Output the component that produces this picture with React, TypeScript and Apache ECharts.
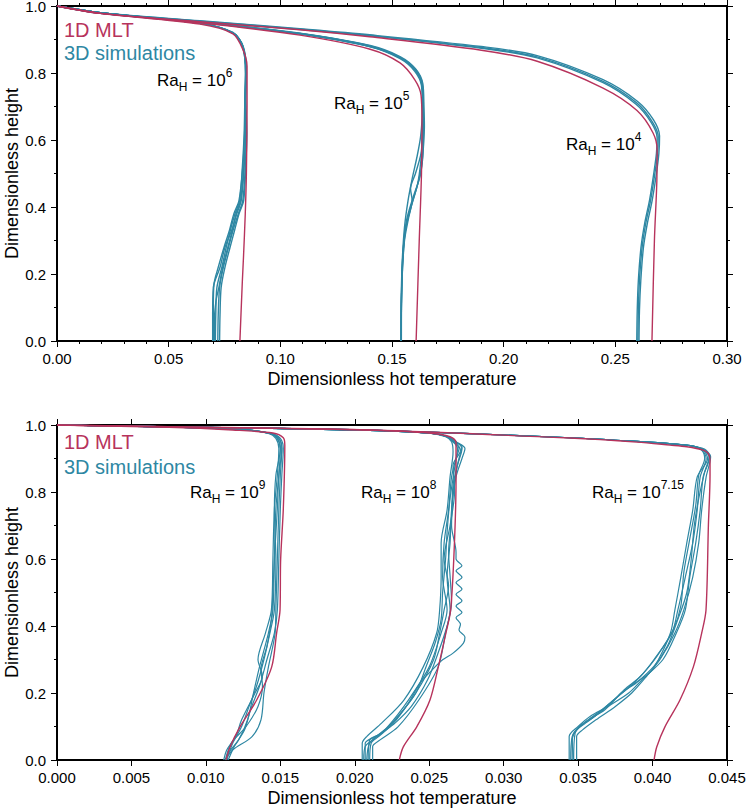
import React, { useEffect, useRef } from "react";
import * as echarts from "echarts";

const RED = "#b7335c";
const TEAL = "#2e87a3";
const FONT = "'Liberation Sans', Arial, Helvetica, sans-serif";

// ---------- Top panel: Ra_H = 10^4, 10^5, 10^6 ----------
const topXTicks = { min: 0, max: 0.3, interval: 0.05 };

const mlt4 = [[0,1],[0.0193,0.978],[0.064,0.953],[0.1088,0.929],[0.14,0.908],[0.19,0.868],[0.215,0.835],[0.2445,0.755],[0.2597,0.688],[0.2669,0.621],[0.2687,0.57],[0.2686,0.48],[0.2675,0.3],[0.2664,0]];
const sim4a = [[0,1],[0.0193,0.979],[0.064,0.955],[0.1088,0.931],[0.14,0.912],[0.19,0.876],[0.215,0.848],[0.2445,0.775],[0.2597,0.71],[0.2665,0.655],[0.2692,0.61],[0.2689,0.56],[0.2677,0.5],[0.2658,0.42],[0.2636,0.35],[0.262,0.28],[0.2608,0.18],[0.2603,0.09],[0.2601,0]];
const sim4b = [[0,1],[0.0193,0.98],[0.064,0.956],[0.1088,0.932],[0.14,0.914],[0.19,0.879],[0.215,0.852],[0.2445,0.78],[0.26,0.715],[0.2671,0.66],[0.2698,0.612],[0.2695,0.56],[0.2684,0.5],[0.2665,0.42],[0.2643,0.35],[0.2626,0.28],[0.2614,0.18],[0.2608,0.09],[0.2606,0]];
const sim4c = [[0,1],[0.0193,0.978],[0.064,0.954],[0.1088,0.93],[0.14,0.911],[0.19,0.874],[0.215,0.845],[0.2445,0.771],[0.2594,0.706],[0.2661,0.652],[0.2687,0.608],[0.2684,0.56],[0.2672,0.5],[0.2653,0.42],[0.2631,0.35],[0.2615,0.28],[0.2603,0.18],[0.2598,0.09],[0.2596,0]];

const mlt5 = [[0,1],[0.0193,0.978],[0.064,0.95],[0.1088,0.913],[0.1402,0.871],[0.1536,0.83],[0.1603,0.779],[0.163,0.734],[0.1634,0.66],[0.1632,0.5],[0.1622,0.3],[0.1608,0]];
const sim5a = [[0,1],[0.0193,0.979],[0.064,0.951],[0.1088,0.917],[0.1402,0.879],[0.1536,0.845],[0.1603,0.809],[0.1634,0.764],[0.1639,0.69],[0.1636,0.6],[0.1628,0.53],[0.1615,0.47],[0.159,0.41],[0.1562,0.34],[0.1548,0.25],[0.1542,0.12],[0.1541,0]];
const sim5b = [[0,1],[0.0193,0.979],[0.064,0.952],[0.1088,0.918],[0.1402,0.881],[0.1536,0.847],[0.1605,0.811],[0.1636,0.766],[0.1641,0.69],[0.1642,0.62],[0.1638,0.55],[0.1625,0.49],[0.1595,0.43],[0.1565,0.36],[0.155,0.27],[0.1543,0.14],[0.1542,0]];
const sim5c = [[0,1],[0.0193,0.979],[0.064,0.951],[0.1088,0.916],[0.1402,0.878],[0.1536,0.843],[0.1601,0.806],[0.1632,0.762],[0.1636,0.69],[0.1628,0.61],[0.1612,0.55],[0.1592,0.49],[0.1572,0.42],[0.1556,0.34],[0.1546,0.24],[0.1541,0.12],[0.154,0]];
const sim5d = [[0,1],[0.0193,0.98],[0.064,0.952],[0.1088,0.918],[0.1402,0.88],[0.1536,0.846],[0.1604,0.81],[0.1635,0.765],[0.164,0.7],[0.1637,0.62],[0.163,0.56],[0.1605,0.5],[0.1583,0.455],[0.159,0.42],[0.1575,0.37],[0.1556,0.3],[0.1546,0.2],[0.1542,0.1],[0.1541,0]];
const sim5e = [[0,1],[0.0193,0.979],[0.064,0.952],[0.1088,0.919],[0.1402,0.882],[0.1536,0.849],[0.1606,0.812],[0.1638,0.768],[0.1643,0.7],[0.1645,0.64],[0.164,0.58],[0.1632,0.52],[0.1612,0.46],[0.158,0.39],[0.1558,0.32],[0.1547,0.22],[0.1542,0.1],[0.1541,0]];

const mlt6 = [[0,1],[0.0193,0.978],[0.064,0.946],[0.0788,0.917],[0.0833,0.869],[0.0851,0.82],[0.0851,0.7],[0.0848,0.5],[0.0843,0.38],[0.0835,0.25],[0.083,0.18],[0.0819,0]];
const sim6a = [[0,1],[0.0193,0.98],[0.064,0.948],[0.0788,0.92],[0.0833,0.878],[0.0846,0.8],[0.0843,0.72],[0.0848,0.62],[0.0843,0.52],[0.0832,0.42],[0.0812,0.38],[0.0788,0.33],[0.0768,0.28],[0.0745,0.22],[0.0728,0.16],[0.0722,0.08],[0.072,0]];
const sim6b = [[0,1],[0.0193,0.98],[0.064,0.948],[0.0788,0.919],[0.0832,0.877],[0.0844,0.8],[0.0841,0.72],[0.0838,0.62],[0.083,0.52],[0.0818,0.42],[0.0797,0.38],[0.0776,0.33],[0.0758,0.28],[0.0738,0.22],[0.0716,0.16],[0.0711,0.08],[0.0709,0]];
const sim6c = [[0,1],[0.0193,0.98],[0.064,0.948],[0.0788,0.92],[0.0833,0.878],[0.0845,0.8],[0.0842,0.72],[0.0843,0.62],[0.0838,0.52],[0.0825,0.42],[0.0805,0.38],[0.0782,0.33],[0.0752,0.28],[0.073,0.22],[0.07,0.16],[0.0697,0.08],[0.0697,0]];
const sim6d = [[0,1],[0.0193,0.98],[0.064,0.948],[0.0788,0.92],[0.0833,0.878],[0.0846,0.8],[0.0844,0.72],[0.0845,0.62],[0.0836,0.52],[0.0822,0.42],[0.0802,0.38],[0.0785,0.33],[0.0765,0.28],[0.0742,0.22],[0.0725,0.16],[0.0712,0.12],[0.0705,0.06],[0.0705,0]];
const sim6e = [[0,1],[0.0193,0.98],[0.064,0.948],[0.0788,0.921],[0.0834,0.879],[0.0848,0.8],[0.0846,0.72],[0.085,0.62],[0.0845,0.52],[0.0836,0.42],[0.0815,0.38],[0.0795,0.33],[0.0775,0.28],[0.0752,0.22],[0.0735,0.16],[0.073,0.08],[0.0728,0]];
const sim6f = [[0,1],[0.0193,0.98],[0.064,0.948],[0.0788,0.919],[0.0832,0.877],[0.0844,0.8],[0.0842,0.72],[0.084,0.62],[0.0832,0.52],[0.0815,0.42],[0.0792,0.38],[0.0772,0.33],[0.0748,0.28],[0.0722,0.22],[0.0703,0.17],[0.07,0.1],[0.0701,0]];

// ---------- Bottom panel: Ra_H = 10^9, 10^8, 10^7.15 ----------
const botXTicks = { min: 0, max: 0.045, interval: 0.005 };

const mlt9 = [[0,1],[0.0075,0.993],[0.0118,0.985],[0.0145,0.976],[0.0152,0.962],[0.0153,0.94],[0.0152,0.75],[0.01502,0.597],[0.01498,0.448],[0.01475,0.379],[0.01442,0.278],[0.01341,0.179],[0.01229,0.099],[0.01162,0.039],[0.01135,0]];
const sim9a = [[0,1],[0.0075,0.994],[0.0125,0.986],[0.0143,0.975],[0.0148,0.96],[0.015,0.93],[0.0149,0.85],[0.0147,0.75],[0.0146,0.6],[0.0145,0.448],[0.0142,0.379],[0.0136,0.278],[0.0132,0.2],[0.0128,0.12],[0.0122,0.06],[0.0115,0.02],[0.0114,0]];
const sim9b = [[0,1],[0.0075,0.994],[0.0125,0.986],[0.0143,0.975],[0.0149,0.96],[0.0151,0.93],[0.015,0.85],[0.0149,0.75],[0.0148,0.6],[0.0147,0.448],[0.01465,0.379],[0.0142,0.278],[0.0139,0.2],[0.0137,0.12],[0.0131,0.07],[0.0118,0.03],[0.0113,0]];
const sim9c = [[0,1],[0.0075,0.994],[0.0125,0.986],[0.0142,0.975],[0.0147,0.96],[0.0149,0.93],[0.0148,0.85],[0.0146,0.75],[0.0145,0.6],[0.0144,0.448],[0.014,0.379],[0.0135,0.3],[0.0138,0.25],[0.0133,0.2],[0.0124,0.12],[0.012,0.07],[0.0114,0.03],[0.0112,0]];
const sim9d = [[0,1],[0.0075,0.994],[0.0125,0.986],[0.0144,0.975],[0.015,0.96],[0.0152,0.93],[0.0151,0.85],[0.015,0.75],[0.0149,0.6],[0.0148,0.448],[0.0146,0.379],[0.0141,0.3],[0.0136,0.22],[0.013,0.15],[0.0126,0.09],[0.0119,0.04],[0.0115,0]];
const sim9e = [[0,1],[0.0075,0.994],[0.0125,0.986],[0.0143,0.975],[0.0148,0.96],[0.015,0.93],[0.0147,0.85],[0.0146,0.75],[0.0147,0.6],[0.0146,0.448],[0.0143,0.379],[0.0139,0.3],[0.0134,0.22],[0.0129,0.16],[0.0124,0.1],[0.0118,0.05],[0.0114,0]];
const sim9f = [[0,1],[0.0075,0.994],[0.0125,0.986],[0.0143,0.975],[0.0149,0.96],[0.0151,0.93],[0.0149,0.85],[0.0148,0.75],[0.0146,0.6],[0.0145,0.5],[0.0144,0.42],[0.0141,0.34],[0.0137,0.27],[0.0138,0.22],[0.0135,0.16],[0.0127,0.1],[0.0117,0.05],[0.0113,0]];

const mlt8 = [[0,1],[0.0075,0.995],[0.015,0.99],[0.021,0.985],[0.025,0.976],[0.0264,0.965],[0.0268,0.949],[0.0268,0.832],[0.02668,0.633],[0.02644,0.448],[0.02612,0.379],[0.02561,0.278],[0.02505,0.179],[0.02416,0.099],[0.02326,0.039],[0.02299,0]];
const sim8a = [[0,1],[0.01,0.993],[0.021,0.984],[0.0252,0.975],[0.0262,0.965],[0.0266,0.95],[0.027,0.93],[0.0268,0.9],[0.0265,0.845],[0.0263,0.746],[0.026,0.648],[0.0259,0.546],[0.0262,0.448],[0.0258,0.379],[0.025,0.278],[0.0236,0.179],[0.0222,0.099],[0.0212,0.06],[0.0207,0.04],[0.0206,0]];
const sim8b = [[0,1],[0.01,0.993],[0.021,0.984],[0.0252,0.975],[0.0263,0.965],[0.0268,0.95],[0.0274,0.93],[0.0272,0.9],[0.0268,0.845],[0.0265,0.746],[0.0264,0.648],[0.0262,0.546],[0.0264,0.448],[0.0261,0.379],[0.0256,0.278],[0.0243,0.179],[0.0229,0.099],[0.0217,0.06],[0.0212,0.04],[0.0212,0]];
const sim8c = [[0,1],[0.01,0.993],[0.021,0.984],[0.0251,0.975],[0.0261,0.965],[0.0265,0.95],[0.0266,0.92],[0.0264,0.845],[0.0262,0.746],[0.0258,0.648],[0.0258,0.546],[0.0257,0.448],[0.0255,0.379],[0.0246,0.278],[0.0233,0.179],[0.0218,0.11],[0.0208,0.07],[0.0205,0.05],[0.0205,0]];
const sim8d = [[0,1],[0.01,0.993],[0.021,0.984],[0.0252,0.975],[0.0262,0.965],[0.0267,0.95],[0.0271,0.925],[0.0266,0.88],[0.0267,0.8],[0.0264,0.7],[0.026,0.6],[0.0263,0.52],[0.026,0.448],[0.0257,0.379],[0.0253,0.3],[0.0241,0.2],[0.0229,0.13],[0.0218,0.08],[0.021,0.06],[0.0209,0]];
const sim8e = [[0,1],[0.01,0.993],[0.021,0.984],[0.0252,0.975],[0.0262,0.965],[0.0266,0.95],[0.0269,0.93],[0.0267,0.87],[0.0264,0.78],[0.0262,0.68],[0.0261,0.6],[0.0259,0.5],[0.0258,0.42],[0.0254,0.35],[0.0248,0.28],[0.0241,0.2],[0.0231,0.14],[0.0223,0.1],[0.0214,0.07],[0.0207,0.05],[0.0207,0]];
const sim8f = [[0,1],[0.01,0.993],[0.021,0.984],[0.0252,0.975],[0.0263,0.965],[0.0267,0.95],[0.0272,0.935],[0.027,0.9],[0.0266,0.82],[0.0265,0.72],[0.0263,0.62],[0.0264,0.55],[0.0265,0.47],[0.0262,0.4],[0.0256,0.32],[0.0249,0.24],[0.0238,0.16],[0.0227,0.11],[0.0218,0.08],[0.021,0.05],[0.0208,0]];
const sim8w = [[0,1],[0.01,0.993],[0.021,0.984],[0.0252,0.975],[0.0263,0.965],[0.0268,0.95],[0.0272,0.93],[0.0269,0.88],[0.0266,0.8],[0.0265,0.7],[0.0268,0.62],[0.0268,0.6],[0.0272,0.58],[0.0268,0.565],[0.0272,0.545],[0.0268,0.53],[0.0272,0.51],[0.0268,0.495],[0.0272,0.475],[0.0268,0.46],[0.0272,0.44],[0.0268,0.425],[0.0271,0.405],[0.027,0.388],[0.0274,0.367],[0.0273,0.349],[0.0266,0.319],[0.0259,0.299],[0.0252,0.269],[0.0244,0.23],[0.0236,0.17],[0.0226,0.11],[0.0216,0.07],[0.0211,0.05],[0.021,0]];

const mlt715 = [[0,1],[0.01,0.993],[0.021,0.985],[0.03445,0.961],[0.03895,0.949],[0.04117,0.94],[0.0423,0.935],[0.0434,0.925],[0.04374,0.915],[0.04386,0.896],[0.04386,0.85],[0.04375,0.7],[0.04359,0.448],[0.0433,0.379],[0.04274,0.278],[0.04184,0.179],[0.04083,0.099],[0.04028,0.039],[0.0401,0]];
const sim715a = [[0,1],[0.01,0.993],[0.021,0.985],[0.03445,0.962],[0.03895,0.951],[0.0415,0.943],[0.0427,0.937],[0.0435,0.925],[0.0439,0.905],[0.0436,0.845],[0.0433,0.746],[0.0431,0.648],[0.0427,0.546],[0.0421,0.448],[0.0415,0.379],[0.0405,0.3],[0.0396,0.25],[0.0386,0.2],[0.0375,0.16],[0.0362,0.12],[0.0353,0.09],[0.0349,0.07],[0.0349,0]];
const sim715b = [[0,1],[0.01,0.993],[0.021,0.985],[0.03445,0.962],[0.03895,0.951],[0.0415,0.943],[0.0427,0.937],[0.0433,0.925],[0.0436,0.9],[0.0432,0.845],[0.043,0.746],[0.0427,0.648],[0.0422,0.546],[0.0417,0.448],[0.0413,0.379],[0.0401,0.3],[0.0392,0.25],[0.0381,0.21],[0.0372,0.17],[0.0361,0.13],[0.0351,0.1],[0.0346,0.07],[0.0345,0]];
const sim715c = [[0,1],[0.01,0.993],[0.021,0.985],[0.03445,0.962],[0.03895,0.951],[0.0415,0.943],[0.0427,0.937],[0.0434,0.925],[0.0437,0.9],[0.043,0.845],[0.0427,0.746],[0.0423,0.648],[0.0419,0.546],[0.0415,0.448],[0.0412,0.379],[0.0404,0.3],[0.0398,0.26],[0.0385,0.22],[0.0377,0.19],[0.0366,0.15],[0.0354,0.11],[0.0348,0.08],[0.0347,0]];
const sim715d = [[0,1],[0.01,0.993],[0.021,0.985],[0.03445,0.962],[0.03895,0.951],[0.0415,0.943],[0.0427,0.937],[0.0436,0.925],[0.0438,0.9],[0.0434,0.845],[0.0432,0.746],[0.0429,0.648],[0.0425,0.546],[0.0422,0.448],[0.0416,0.379],[0.0407,0.3],[0.0393,0.24],[0.0384,0.2],[0.037,0.16],[0.0358,0.13],[0.035,0.1],[0.0344,0.07],[0.0344,0]];
const sim715e = [[0,1],[0.01,0.993],[0.021,0.985],[0.03445,0.962],[0.03895,0.951],[0.0415,0.943],[0.0427,0.937],[0.0434,0.925],[0.0438,0.905],[0.0435,0.86],[0.0431,0.78],[0.0428,0.7],[0.0426,0.6],[0.0423,0.5],[0.0417,0.42],[0.041,0.34],[0.0401,0.28],[0.0389,0.23],[0.0379,0.2],[0.0368,0.15],[0.0357,0.12],[0.0349,0.09],[0.0346,0.06],[0.0346,0]];
const sim715f = [[0,1],[0.01,0.993],[0.021,0.985],[0.03445,0.962],[0.03895,0.951],[0.0415,0.943],[0.0427,0.937],[0.0433,0.925],[0.0435,0.9],[0.0431,0.85],[0.0429,0.76],[0.0425,0.66],[0.0421,0.56],[0.0419,0.46],[0.0414,0.39],[0.0403,0.31],[0.0394,0.26],[0.0385,0.22],[0.0374,0.18],[0.0364,0.14],[0.0355,0.11],[0.0348,0.085],[0.0346,0.06],[0.0347,0]];

const yTicks = { min: 0, max: 1, interval: 0.2 };

const topSim = [sim4a, sim4b, sim4c, sim5a, sim5b, sim5c, sim5d, sim5e, sim6a, sim6b, sim6c, sim6d, sim6e, sim6f];
const topMlt = [mlt4, mlt5, mlt6];
const botSim = [sim9a, sim9b, sim9c, sim9d, sim9e, sim9f, sim8a, sim8b, sim8c, sim8d, sim8e, sim8f, sim8w, sim715a, sim715b, sim715c, sim715d, sim715e, sim715f];
const botMlt = [mlt9, mlt8, mlt715];

const legendTexts = ["1D MLT", "3D simulations"];
const xTitle = "Dimensionless hot temperature";
const yTitle = "Dimensionless height";

const topLabels = [
  { exp: "6", x: 157, y: 80 },
  { exp: "5", x: 334, y: 103 },
  { exp: "4", x: 566, y: 144 },
];
const botLabels = [
  { exp: "9", x: 190, y: 492 },
  { exp: "8", x: 361, y: 492 },
  { exp: "7.15", x: 592, y: 492 },
];

function xAxes(grid: number, t: any, digits: number, minor: boolean) {
  const base = {
    gridIndex: grid,
    type: "value",
    min: t.min,
    max: t.max,
    interval: t.interval,
    splitLine: { show: false },
    axisLine: { show: true, onZero: false, lineStyle: { color: "#000", width: 2 } },
    axisTick: { show: true, inside: false, length: 6, lineStyle: { color: "#000", width: 1 } },
    minorTick: { show: minor, splitNumber: 5, length: 3, lineStyle: { color: "#000", width: 1 } },
    minorSplitLine: { show: false },
  };
  return [
    {
      ...base,
      position: "bottom",
      name: xTitle,
      nameLocation: "middle",
      nameGap: 29,
      nameMoveOverlap: false,
      nameTextStyle: { fontSize: 18, color: "#000", fontFamily: FONT },
      axisLabel: {
        show: true,
        margin: 10,
        fontSize: 15,
        color: "#000",
        fontFamily: FONT,
        formatter: (v: number) => v.toFixed(digits),
      },
    },
    { ...base, position: "top", axisLabel: { show: false } },
  ];
}

function yAxes(grid: number) {
  const base = {
    gridIndex: grid,
    type: "value",
    min: yTicks.min,
    max: yTicks.max,
    interval: yTicks.interval,
    splitLine: { show: false },
    axisLine: { show: true, onZero: false, lineStyle: { color: "#000", width: 2 } },
    axisTick: { show: true, inside: false, length: 6, lineStyle: { color: "#000", width: 1 } },
    minorTick: { show: true, splitNumber: 2, length: 3, lineStyle: { color: "#000", width: 1 } },
    minorSplitLine: { show: false },
  };
  return [
    {
      ...base,
      position: "left",
      name: yTitle,
      nameLocation: "middle",
      nameGap: 36,
      nameMoveOverlap: false,
      nameTextStyle: { fontSize: 18, color: "#000", fontFamily: FONT },
      axisLabel: {
        show: true,
        margin: 11,
        fontSize: 15,
        color: "#000",
        fontFamily: FONT,
        formatter: (v: number) => v.toFixed(1),
      },
    },
    { ...base, position: "right", axisLabel: { show: false } },
  ];
}

function lineSeries(data: number[][], axisIdx: number, color: string, width: number, z: number) {
  return {
    type: "line",
    xAxisIndex: axisIdx,
    yAxisIndex: axisIdx,
    data,
    symbol: "none",
    showSymbol: false,
    smooth: 0.3,
    z,
    silent: true,
    lineStyle: { color, width },
  };
}

function raLabel(l: any) {
  return {
    type: "text",
    x: l.x,
    y: l.y,
    z: 100,
    style: {
      text: `{a|Ra}{b|H}{a| = 10}{c|${l.exp}}`,
      verticalAlign: "middle",
      align: "left",
      fill: "#000",
      fontFamily: FONT,
      rich: {
        a: { fontSize: 17, lineHeight: 26, fill: "#000", fontFamily: FONT },
        b: { fontSize: 12, lineHeight: 14, verticalAlign: "bottom", fill: "#000", fontFamily: FONT },
        c: { fontSize: 12, lineHeight: 14, verticalAlign: "top", fill: "#000", fontFamily: FONT },
      },
    },
  };
}

function legend(y1: number, y2: number) {
  return [
    {
      type: "text",
      x: 64,
      y: y1,
      z: 100,
      style: { text: legendTexts[0], fill: RED, fontSize: 20, fontFamily: FONT, verticalAlign: "middle", align: "left" },
    },
    {
      type: "text",
      x: 64,
      y: y2,
      z: 100,
      style: { text: legendTexts[1], fill: TEAL, fontSize: 20, fontFamily: FONT, verticalAlign: "middle", align: "left" },
    },
  ];
}

export default function App() {
  const ref = useRef<HTMLDivElement>(null);
  useEffect(() => {
    if (!ref.current) return;
    const chart = echarts.init(ref.current, null, { renderer: "svg" });
    const series: any[] = [];
    topSim.forEach((d) => series.push(lineSeries(d, 0, TEAL, 1.4, 2)));
    topMlt.forEach((d) => series.push(lineSeries(d, 0, RED, 1.4, 3)));
    botSim.forEach((d) => series.push(lineSeries(d, 2, TEAL, 1.2, 2)));
    botMlt.forEach((d) => series.push(lineSeries(d, 2, RED, 1.4, 3)));

    chart.setOption({
      animation: false,
      backgroundColor: "#fff",
      textStyle: { fontFamily: FONT },
      grid: [
        { left: 57, top: 6, width: 670, height: 335, containLabel: false, outerBoundsMode: "none" },
        { left: 57, top: 425, width: 670, height: 335, containLabel: false, outerBoundsMode: "none" },
      ],
      xAxis: [...xAxes(0, topXTicks, 2, true), ...xAxes(1, botXTicks, 3, false)],
      yAxis: [...yAxes(0), ...yAxes(1)],
      series,
      graphic: [
        ...legend(30, 53),
        ...legend(442, 467),
        ...topLabels.map(raLabel),
        ...botLabels.map(raLabel),
      ],
    });
    return () => chart.dispose();
  }, []);
  return (
    <div
      ref={ref}
      style={{ position: "absolute", left: 0, top: 0, width: 747, height: 811, background: "#fff" }}
    />
  );
}
